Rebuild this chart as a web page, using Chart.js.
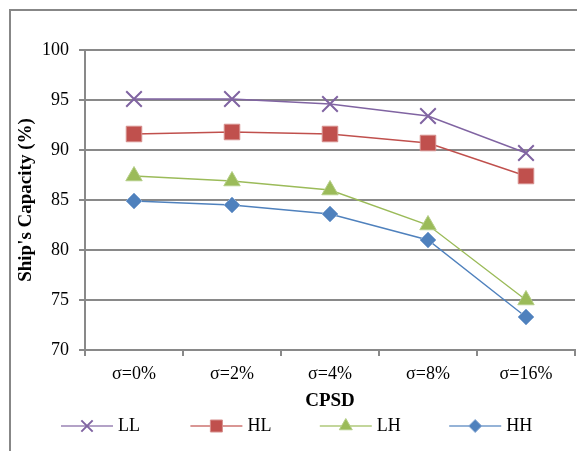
<!DOCTYPE html>
<html>
<head>
<meta charset="utf-8">
<script src="https://cdn.jsdelivr.net/npm/chart.js@4/dist/chart.umd.min.js"></script>
<style>
  html, body { margin: 0; padding: 0; background: #fff; overflow: hidden; }
  #wrap { position: relative; width: 577px; height: 451px; overflow: hidden; }
  #frame { position: absolute; left: 9px; top: 9px; width: 640px; height: 520px;
           border: 2px solid #878787; box-sizing: border-box; }
  canvas { position: absolute; left: 0; top: 0; }
</style>
</head>
<body>
<div id="wrap">
  <div id="frame"></div>
  <canvas id="c" width="577" height="451"></canvas>
</div>
<script>
// Ship's capacity under different CPSD levels
const categories = ['σ=0%', 'σ=2%', 'σ=4%', 'σ=8%', 'σ=16%'];
const seriesNames = ['LL', 'HL', 'LH', 'HH'];
const llValues = [95.1, 95.1, 94.6, 93.4, 89.7];
const hlValues = [91.6, 91.8, 91.6, 90.7, 87.4];
const lhValues = [87.4, 86.9, 86.0, 82.5, 75.0];
const hhValues = [84.9, 84.5, 83.6, 81.0, 73.3];
const yTicks = [70, 75, 80, 85, 90, 95, 100];

const FONT = '"Liberation Serif", "Times New Roman", serif';
const GRID = '#898989';

function series(label, data, color, style, radius, legendRadius, extra) {
  return Object.assign({
    label: label,
    data: data,
    borderColor: color,
    backgroundColor: color,
    borderWidth: 1.4,
    pointStyle: style,
    pointRadius: radius,
    pointHoverRadius: radius,
    pointBackgroundColor: color,
    pointBorderColor: color,
    pointBorderWidth: 1,
    legendRadius: legendRadius,
    tension: 0,
    fill: false
  }, extra || {});
}

// Legend drawn as line + marker + name, evenly spaced under the axis title
const lineLegend = {
  id: 'lineLegend',
  afterDraw(chart) {
    const ctx = chart.ctx;
    const y = 426, start = 61, step = 129.4, lineLen = 52;
    const drawPoint = (Chart.helpers && Chart.helpers.drawPoint) ? Chart.helpers.drawPoint : null;
    chart.data.datasets.forEach((ds, i) => {
      const x0 = start + i * step;
      ctx.save();
      ctx.globalAlpha = 0.6;
      ctx.strokeStyle = ds.borderColor;
      ctx.lineWidth = 2;
      ctx.beginPath();
      ctx.moveTo(x0, y);
      ctx.lineTo(x0 + lineLen, y);
      ctx.stroke();
      ctx.globalAlpha = 1;
      ctx.fillStyle = ds.pointBackgroundColor;
      ctx.strokeStyle = ds.pointBorderColor;
      ctx.lineWidth = ds.pointBorderWidth;
      if (drawPoint) {
        drawPoint(ctx, { pointStyle: ds.pointStyle, rotation: 0, radius: ds.legendRadius,
                         borderWidth: ds.pointBorderWidth }, x0 + lineLen / 2, y);
      }
      ctx.fillStyle = '#000';
      ctx.font = '18px ' + FONT;
      ctx.textBaseline = 'middle';
      ctx.textAlign = 'left';
      ctx.fillText(ds.label, x0 + lineLen + 5, y);
      ctx.restore();
    });
  }
};

new Chart(document.getElementById('c'), {
  type: 'line',
  data: {
    labels: categories,
    datasets: [
      series(seriesNames[0], llValues, '#8064A2', 'crossRot', 11, 8, { pointBorderWidth: 2 }),
      series(seriesNames[1], hlValues, '#C0504D', 'rect', 11, 8.5, { pointBorderColor: '#D7908E' }),
      series(seriesNames[2], lhValues, '#9BBB59', 'triangle', 9.5, 7.5, { pointBorderColor: '#B5CE88' }),
      series(seriesNames[3], hhValues, '#4F81BD', 'rectRot', 8, 6.5, { pointBorderColor: '#88A9D3' })
    ]
  },
  options: {
    responsive: false,
    animation: false,
    devicePixelRatio: 1,
    layout: { autoPadding: false, padding: { left: 0, top: 50, right: 2, bottom: 35 } },
    plugins: {
      legend: { display: false },
      tooltip: { enabled: false }
    },
    scales: {
      x: {
        offset: true,
        grid: { offset: true, drawOnChartArea: false, drawTicks: true, tickLength: 6,
                color: GRID, lineWidth: 2 },
        border: { color: GRID, width: 2 },
        ticks: { font: { family: FONT, size: 18 }, color: '#000', padding: 7, maxRotation: 0 },
        title: { display: true, text: 'CPSD', color: '#000',
                 font: { family: FONT, size: 19, weight: 'bold' },
                 padding: { top: 0, bottom: 3.5 } },
        afterFit(scale) {
          scale.height = 66;
          scale.paddingLeft = 0;
          scale.paddingRight = 0;
        }
      },
      y: {
        min: 70,
        max: 100,
        afterBuildTicks(scale) { scale.ticks = yTicks.map(v => ({ value: v })); },
        grid: { color: GRID, lineWidth: 2, tickLength: 6 },
        border: { color: GRID, width: 2 },
        ticks: { font: { family: FONT, size: 18 }, color: '#000', padding: 10 },
        title: { display: true, text: "Ship's Capacity (%)", color: '#000',
                 font: { family: FONT, size: 19, weight: 'bold' },
                 padding: { top: 15, bottom: 0 } },
        afterFit(scale) { scale.width = 85; }
      }
    }
  },
  plugins: [lineLegend]
});
</script>
</body>
</html>
